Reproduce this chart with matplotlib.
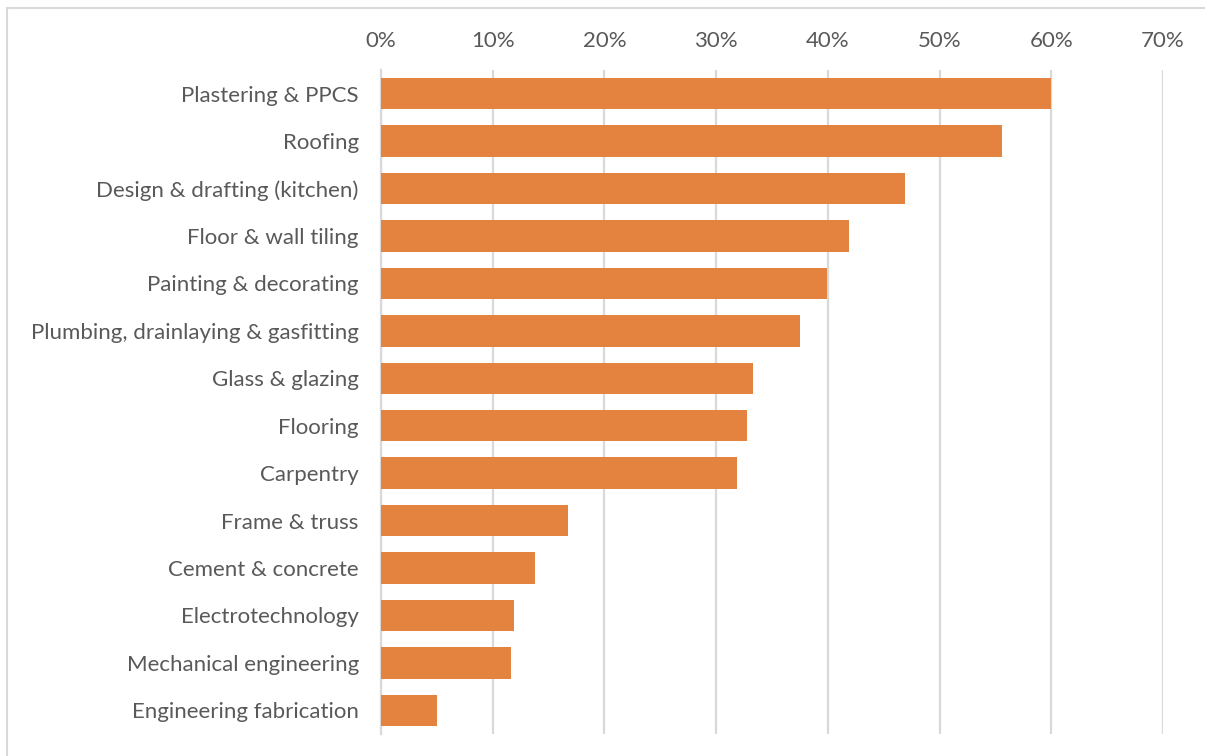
import matplotlib
matplotlib.use("Agg")
import matplotlib.pyplot as plt
from matplotlib.patches import Rectangle
from matplotlib.ticker import FuncFormatter, MultipleLocator

categories = [
    "Plastering & PPCS",
    "Roofing",
    "Design & drafting (kitchen)",
    "Floor & wall tiling",
    "Painting & decorating",
    "Plumbing, drainlaying & gasfitting",
    "Glass & glazing",
    "Flooring",
    "Carpentry",
    "Frame & truss",
    "Cement & concrete",
    "Electrotechnology",
    "Mechanical engineering",
    "Engineering fabrication",
]
shares = [0.600, 0.556, 0.469, 0.419, 0.399, 0.375, 0.333, 0.328, 0.319,
          0.167, 0.138, 0.119, 0.116, 0.050]

plt.rcParams["font.family"] = ["Lato", "DejaVu Sans"]

text_color = "#595959"
grid_color = "#d9d9d9"
bar_color = "#E4823F"
label_size = 16

fig = plt.figure(figsize=(12.05, 7.56), dpi=100)
ax = fig.add_axes([381 / 1205, 1 - 734 / 756, (1163 - 381) / 1205, (734 - 70) / 756])

y = list(range(len(categories)))
ax.barh(y, shares, height=0.66, color=bar_color, zorder=3)
ax.set_ylim(len(categories) - 0.5, -0.5)
ax.set_xlim(0, 0.70)
ax.set_yticks(y)
ax.set_yticklabels(categories, fontsize=label_size, color=text_color, fontweight="normal")

ax.xaxis.set_major_locator(MultipleLocator(0.10))
ax.xaxis.set_major_formatter(FuncFormatter(lambda v, _: f"{v * 100:.0f}%"))
ax.xaxis.tick_top()
ax.tick_params(axis="x", labelsize=label_size, labelcolor=text_color, length=0, pad=14)
ax.tick_params(axis="y", length=0, pad=16)

ax.grid(axis="x", color=grid_color, linewidth=1.6, zorder=0)
for side in ("top", "right", "bottom"):
    ax.spines[side].set_visible(False)
ax.spines["left"].set_color(grid_color)
ax.spines["left"].set_linewidth(1.6)

# chart frame, open on the right and bottom edges
fig.patches.append(Rectangle((7 / 1205, -0.1), 1.2, 1 - 8 / 756 + 0.1,
                             transform=fig.transFigure, fill=False,
                             edgecolor=grid_color, linewidth=1.5))

fig.savefig("out.png", dpi=100)
